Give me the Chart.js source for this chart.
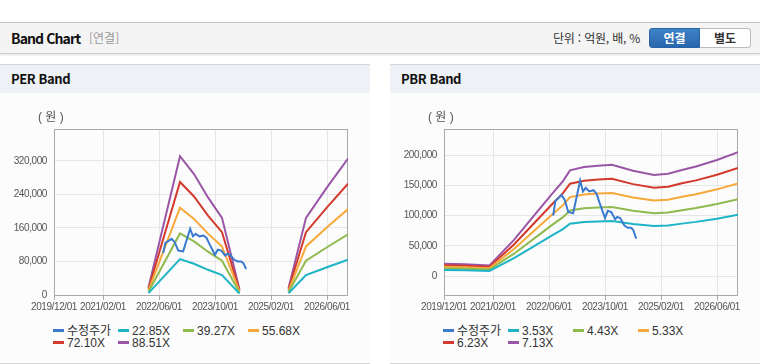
<!DOCTYPE html>
<html lang="ko">
<head>
<meta charset="utf-8">
<script src="https://cdn.jsdelivr.net/npm/chart.js@4/dist/chart.umd.min.js"></script>
<style>
  body { margin: 0; width: 760px; height: 364px; background: #fff; position: relative; overflow: hidden;
         font-family: "Noto Sans CJK KR", "Liberation Sans", sans-serif; }
  #header { position: absolute; left: 0; top: 22px; width: 760px; height: 32px; box-sizing: border-box;
            background: #f4f4f4; border-top: 1px solid #c4c4c4; border-bottom: 1px solid #cfcfcf;
            box-shadow: 0 1px 2px rgba(0,0,0,0.12); }
  #header .title { position: absolute; left: 11px; top: 5px; font-size: 14px; font-weight: bold; color: #111; letter-spacing: -0.9px; }
  #header .sub { position: absolute; left: 89px; top: 6px; font-size: 12px; color: #999; }
  #header .unit { position: absolute; left: 553px; top: 6px; font-size: 12px; color: #333; letter-spacing: -0.2px; }
  .btn { position: absolute; top: 5px; height: 20px; width: 51px; box-sizing: border-box; font-size: 12px; font-weight: bold;
         text-align: center; line-height: 18px; }
  #btnA { left: 649px; background: linear-gradient(#3d82c8, #2a67ad); color: #fff; border: 1px solid #2a63a5; border-radius: 3px 0 0 3px; }
  #btnB { left: 700px; background: #fff; color: #333; border: 1px solid #bbb; border-left: none; border-radius: 0 3px 3px 0; }
  .panel { position: absolute; top: 64px; width: 370px; height: 300px; box-sizing: border-box; background: #fcfcfc;
           border-top: 1px solid #d6d6d6; border-bottom: 1px solid #d6d6d6; }
  .panel .bar { height: 28px; background: #eef1f6; font-size: 13px; font-weight: bold; color: #111; line-height: 28px;
                padding-left: 11px; letter-spacing: -0.4px; }
  .panel canvas { position: absolute; left: 0; top: 30px; }
  .legend { position: absolute; left: 53px; top: 256px; font-family: "Liberation Sans", "Noto Sans CJK KR", sans-serif; font-size: 12px; color: #333; }
  .legend .row { height: 15px; white-space: nowrap; }
  .legend .item { display: inline-block; width: 65px; }
  .legend .mark { display: inline-block; width: 11px; height: 3px; vertical-align: middle; margin-right: 3px; margin-top: -2px; }
</style>
</head>
<body>
<div id="header">
  <span class="title">Band Chart</span>
  <span class="sub">[연결]</span>
  <span class="unit">단위 : 억원, 배, %</span>
  <div class="btn" id="btnA">연결</div>
  <div class="btn" id="btnB">별도</div>
</div>

<div class="panel" style="left:0">
  <div class="bar">PER Band</div>
  <canvas id="perChart" width="370" height="225"></canvas>
  <div class="legend" id="perLegend"></div>
</div>

<div class="panel" style="left:390px">
  <div class="bar">PBR Band</div>
  <canvas id="pbrChart" width="370" height="225"></canvas>
  <div class="legend" id="pbrLegend"></div>
</div>

<script>
// x axis is months counted from 2019/12
const xTickMonths = [0, 14, 30, 46, 62, 78];
const xTickLabels = ['2019/12/01', '2021/02/01', '2022/06/01', '2023/10/01', '2025/02/01', '2026/06/01'];
const unitLabel = '( 원 )';

const seriesColors = ['#3b7bcf', '#1eb4c6', '#8fba4f', '#f6a83a', '#d3392d', '#9a56a6'];
const tickFont = "'Liberation Sans', sans-serif";

// adjusted price (수정주가)
const priceMonths = [31.2, 31.8, 32.5, 33.6, 34.5, 35.5, 36.9, 38.9, 39.7, 40.5, 41.5, 42.7, 43.6, 44.4, 46.0, 46.8, 47.8, 48.9, 49.5, 50.3, 51.5, 52.5, 53.5, 54.1, 54.9];
const priceValues = [100000, 124000, 128000, 134000, 126000, 106000, 104000, 158000, 140000, 146000, 140000, 142000, 136000, 122000, 96000, 108000, 106000, 94000, 98000, 96000, 84000, 80000, 80000, 76000, 62000];

// PER band
const perLabels = ['22.85X', '39.27X', '55.68X', '72.10X', '88.51X'];
const perMonths = [27, 36, 40, 44, 48, 53, 60, 67, 72, 78, 84];
const per2285 = [4600, 85500, 74500, 60100, 47500, 3400, null, 4100, 47500, 66300, 84100];
const per3927 = [7900, 146900, 128000, 103300, 81700, 5900, null, 7100, 81700, 113900, 144500];
const per5568 = [11100, 208200, 181500, 146400, 115800, 8400, null, 10000, 115800, 161500, 204900];
const per7210 = [14400, 269700, 235000, 189600, 150000, 10800, null, 13000, 150000, 209100, 265300];
const per8851 = [17700, 331000, 288500, 232800, 184100, 13300, null, 15900, 184100, 256700, 325700];
const perTicks = [0, 80000, 160000, 240000, 320000];

// PBR band
const pbrLabels = ['3.53X', '4.43X', '5.33X', '6.23X', '7.13X'];
const pbrMonths = [0, 6, 13, 20, 26, 31, 34, 36, 40, 44, 48, 54, 60, 64, 68, 72, 78, 84];
const pbr353 = [10200, 9700, 8800, 29700, 50500, 67800, 77700, 86500, 89300, 90400, 91100, 86100, 82800, 83700, 86800, 89700, 95000, 101300];
const pbr443 = [12800, 12200, 11100, 37200, 63300, 85100, 97500, 108500, 112100, 113400, 114300, 108100, 103900, 105000, 109000, 112500, 119200, 127100];
const pbr533 = [15500, 14700, 13300, 44800, 76200, 102300, 117300, 130600, 134800, 136400, 137500, 130100, 125000, 126300, 131100, 135400, 143400, 153000];
const pbr623 = [18100, 17100, 15600, 52300, 89100, 119600, 137100, 152600, 157600, 159500, 160700, 152000, 146100, 147700, 153300, 158200, 167600, 178800];
const pbr713 = [20700, 19600, 17800, 59900, 102000, 136900, 156900, 174700, 180400, 182500, 184000, 174000, 167200, 169000, 175400, 181100, 191800, 204600];
const pbrTicks = [0, 50000, 100000, 150000, 200000];

const toPoints = (months, values) => months.map((m, i) => ({ x: m, y: values[i] }));

// tighter tick text, the original uses a narrow font
const tightText = {
  id: 'tightText',
  beforeInit(chart) { chart.ctx.letterSpacing = '-0.4px'; },
  beforeDraw(chart) { chart.ctx.letterSpacing = '-0.4px'; }
};

// plot frame + the (원) unit label above the y axis
const plotBox = {
  id: 'plotBox',
  beforeDatasetsDraw(chart) {
    const a = chart.chartArea;
    const ctx = chart.ctx;
    ctx.save();
    ctx.strokeStyle = '#a9a9a9';
    ctx.lineWidth = 1;
    ctx.strokeRect(a.left + 0.5, a.top + 0.5, a.right - a.left - 1, a.bottom - a.top);
    ctx.letterSpacing = '0px';
    ctx.fillStyle = '#555';
    ctx.font = "12px 'Liberation Sans', 'Noto Sans CJK KR', sans-serif";
    ctx.textBaseline = 'middle';
    ctx.textAlign = 'left';
    ctx.fillText(unitLabel, 38, 23);
    ctx.restore();
  }
};

function makeChart(id, bandMonths, bands, bandLabels, yMin, yMax, yTicks) {
  const datasets = [{ label: '수정주가', data: toPoints(priceMonths, priceValues) }];
  bands.forEach((b, i) => datasets.push({ label: bandLabels[i], data: toPoints(bandMonths, b) }));
  datasets.forEach((d, i) => {
    d.borderColor = seriesColors[i];
    d.backgroundColor = seriesColors[i];
    d.borderWidth = 2;
    d.pointRadius = 0;
    d.tension = 0;
    d.spanGaps = false;
  });
  // price drawn on top
  datasets[0].order = -1;

  new Chart(document.getElementById(id), {
    type: 'line',
    data: { datasets },
    options: {
      responsive: false,
      animation: false,
      devicePixelRatio: 1,
      layout: { padding: { top: 34, right: 22, left: 0, bottom: 0 } },
      plugins: { legend: { display: false }, tooltip: { enabled: false } },
      scales: {
        x: {
          type: 'linear', min: 0, max: 84,
          afterBuildTicks: s => { s.ticks = xTickMonths.map(v => ({ value: v })); },
          afterFit: s => { s.height = 25; },
          grid: { color: '#e6e6e6', tickLength: 5, tickColor: '#a9a9a9' },
          border: { display: false },
          ticks: {
            autoSkip: false, maxRotation: 0, padding: 1, color: '#555',
            font: { family: tickFont, size: 10 },
            callback: (v, i) => xTickLabels[i]
          }
        },
        y: {
          min: yMin, max: yMax,
          afterBuildTicks: s => { s.ticks = yTicks.map(v => ({ value: v })); },
          afterFit: s => { s.width = 54; },
          grid: { color: '#e6e6e6', drawTicks: false },
          border: { display: false },
          ticks: {
            padding: 7, color: '#555',
            font: { family: tickFont, size: 10 },
            callback: v => v.toLocaleString('en-US')
          }
        }
      }
    },
    plugins: [tightText, plotBox]
  });

  // legend in fixed columns like the original
  const names = datasets.map(d => d.label);
  const legend = document.getElementById(id.replace('Chart', 'Legend'));
  [names.slice(0, 4), names.slice(4)].forEach((rowNames, r) => {
    const row = document.createElement('div');
    row.className = 'row';
    rowNames.forEach((n, j) => {
      const k = r * 4 + j;
      const item = document.createElement('span');
      item.className = 'item';
      item.innerHTML = '<span class="mark" style="background:' + seriesColors[k] + '"></span>' + n;
      row.appendChild(item);
    });
    legend.appendChild(row);
  });
}

makeChart('perChart', perMonths, [per2285, per3927, per5568, per7210, per8851], perLabels, 0, 396000, perTicks);
makeChart('pbrChart', pbrMonths, [pbr353, pbr443, pbr533, pbr623, pbr713], pbrLabels, -31000, 243000, pbrTicks);
</script>
</body>
</html>
